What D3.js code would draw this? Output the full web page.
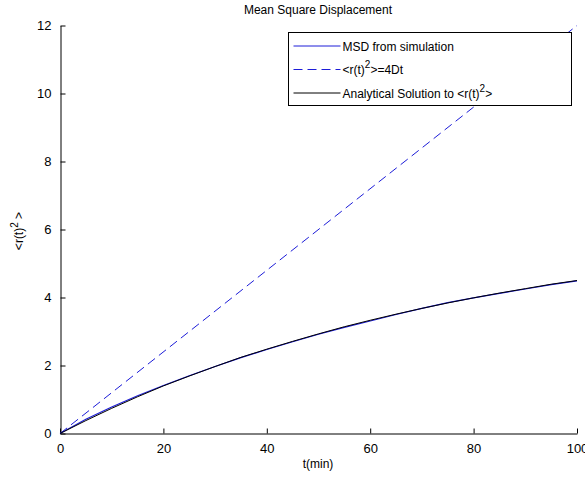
<!DOCTYPE html>
<html>
<head>
<meta charset="utf-8">
<script src="https://cdn.jsdelivr.net/npm/d3@7"></script>
<style>
  body { margin: 0; background: #fff; }
  svg { display: block; font-family: "Liberation Sans", Arial, sans-serif; }
</style>
</head>
<body>
<svg id="chart" width="585" height="482"></svg>
<script>
// data
let times = [0, 5, 10, 15, 20, 25, 30, 35, 40, 45, 50, 55, 60, 65, 70, 75, 80, 85, 90, 95, 100];
let msdSim = [0, 0.42, 0.78, 1.11, 1.41, 1.70, 1.97, 2.23, 2.47, 2.70, 2.92, 3.12, 3.31, 3.50, 3.68, 3.85, 3.99, 4.12, 4.25, 4.38, 4.49];
let msdAnalytic = [0, 0.38, 0.74, 1.08, 1.40, 1.69, 1.97, 2.24, 2.48, 2.71, 2.93, 3.14, 3.33, 3.51, 3.68, 3.84, 3.99, 4.13, 4.26, 4.39, 4.50];
let freeTimes = [0, 100];
let freeMsd = [0, 12];
let xTicks = [0, 20, 40, 60, 80, 100];
let yTicks = [0, 2, 4, 6, 8, 10, 12];

let svg = d3.select("#chart");

let x = d3.scaleLinear().domain([0, 100]).range([60, 577]);
let y = d3.scaleLinear().domain([0, 12]).range([433.5, 25.5]);

// axes, ticks pointing inward like matlab
let xAxis = d3.axisBottom(x).tickValues(xTicks).tickSize(-5).tickSizeOuter(0).tickPadding(10);
let yAxis = d3.axisLeft(y).tickValues(yTicks).tickSize(-5).tickSizeOuter(0).tickPadding(9);

let gx = svg.append("g").attr("transform", "translate(0,433.5)").call(xAxis);
let gy = svg.append("g").attr("transform", "translate(60.5,0)").call(yAxis);

[gx, gy].forEach(g => {
  g.selectAll("path, line").attr("stroke", "#000");
  g.selectAll("text").attr("fill", "#000").style("font-size", "13px").style("font-family", "Liberation Sans, Arial, sans-serif");
});
gx.selectAll(".tick text").attr("dy", "0.71em");

// lines
let lineGen = (xs) => d3.line()
  .x((d, i) => x(xs[i]))
  .y(d => y(d));

let plot = svg.append("g");

plot.append("path")
  .attr("d", lineGen(times)(msdSim))
  .attr("fill", "none")
  .attr("stroke", "#1c1cd8")
  .attr("stroke-width", 1.2);

plot.append("path")
  .attr("d", lineGen(freeTimes)(freeMsd))
  .attr("fill", "none")
  .attr("stroke", "#1c1cd8")
  .attr("stroke-width", 1)
  .attr("stroke-dasharray", "9,5");

plot.append("path")
  .attr("d", lineGen(times)(msdAnalytic))
  .attr("fill", "none")
  .attr("stroke", "#000")
  .attr("stroke-width", 1);

// title and labels
svg.append("text")
  .attr("x", 318).attr("y", 14)
  .attr("text-anchor", "middle")
  .style("font-size", "12px")
  .text("Mean Square Displacement");

svg.append("text")
  .attr("x", 318).attr("y", 468)
  .attr("text-anchor", "middle")
  .style("font-size", "12px")
  .text("t(min)");

let ylab = svg.append("text")
  .attr("transform", "translate(23,231) rotate(-90)")
  .attr("text-anchor", "middle")
  .style("font-size", "12px");
ylab.append("tspan").text("<r(t)");
ylab.append("tspan").attr("dy", -5).style("font-size", "10px").text("2");
ylab.append("tspan").attr("dy", 5).text(" >");

// legend
let legend = svg.append("g").attr("transform", "translate(288.5,32.5)");
legend.append("rect")
  .attr("width", 283).attr("height", 73)
  .attr("fill", "#fff").attr("stroke", "#000");

let legendItems = [
  {stroke: "#1c1cd8", dash: null},
  {stroke: "#1c1cd8", dash: "9,5"},
  {stroke: "#000", dash: null}
];

legendItems.forEach((item, i) => {
  let ly = 13.5 + i * 23.5;
  legend.append("line")
    .attr("x1", 5).attr("x2", 52)
    .attr("y1", ly).attr("y2", ly)
    .attr("stroke", item.stroke)
    .attr("stroke-dasharray", item.dash);
});

let t1 = legend.append("text").attr("x", 54).attr("y", 18).style("font-size", "12px");
t1.text("MSD from simulation");

let t2 = legend.append("text").attr("x", 54).attr("y", 41.5).style("font-size", "12px");
t2.append("tspan").text("<r(t)");
t2.append("tspan").attr("dy", -6).style("font-size", "10px").text("2");
t2.append("tspan").attr("dy", 6).text(">=4Dt");

let t3 = legend.append("text").attr("x", 54).attr("y", 65).style("font-size", "12px");
t3.append("tspan").text("Analytical Solution to <r(t)");
t3.append("tspan").attr("dy", -6).style("font-size", "10px").text("2");
t3.append("tspan").attr("dy", 6).text(">");
</script>
</body>
</html>
